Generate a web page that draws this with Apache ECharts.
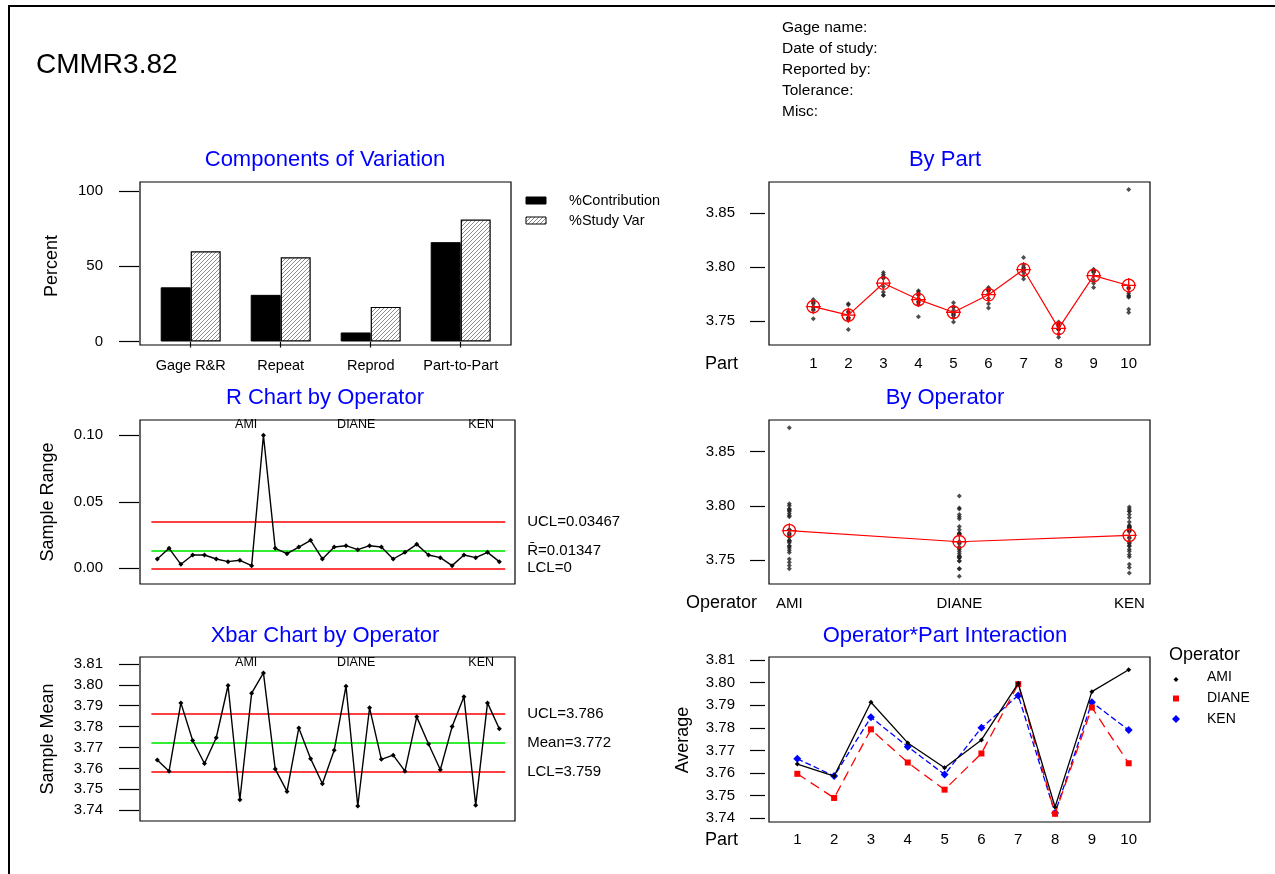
<!DOCTYPE html>
<html>
<head>
<meta charset="utf-8">
<title>Gage R&amp;R (ANOVA) CMMR3.82</title>
<script src="https://cdn.jsdelivr.net/npm/echarts@6/dist/echarts.min.js"></script>
<style>
  html, body { margin: 0; padding: 0; background: #fff; }
  #main { width: 1275px; height: 874px; }
</style>
</head>
<body>
<div id="main"></div>
<script>
// ---- data ----
var components = ['Gage R&R', 'Repeat', 'Reprod', 'Part-to-Part'];
var pctContribution = [36, 31, 6, 66];
var pctStudyVar = [60, 56, 23, 81];

var operators = ['AMI', 'DIANE', 'KEN'];
var parts = ['1', '2', '3', '4', '5', '6', '7', '8', '9', '10'];

// three trials per part, one list per operator
var amiTrials = [
    [3.761, 3.763, 3.768], [3.751, 3.759, 3.766], [3.790, 3.791, 3.793], [3.768, 3.774, 3.778], [3.757, 3.763, 3.767],
    [3.771, 3.775, 3.778], [3.797, 3.800, 3.802], [3.742, 3.745, 3.748], [3.795, 3.796, 3.797], [3.772, 3.773, 3.872]
];
var dianeTrials = [
    [3.752, 3.760, 3.767], [3.742, 3.752, 3.753], [3.774, 3.774, 3.790], [3.754, 3.765, 3.775], [3.749, 3.753, 3.756],
    [3.762, 3.766, 3.778], [3.792, 3.797, 3.809], [3.735, 3.742, 3.749], [3.781, 3.788, 3.798], [3.758, 3.761, 3.774]
];
var kenTrials = [
    [3.763, 3.766, 3.770], [3.753, 3.758, 3.765], [3.777, 3.782, 3.795], [3.767, 3.771, 3.777], [3.755, 3.760, 3.763],
    [3.779, 3.780, 3.781], [3.789, 3.795, 3.799], [3.738, 3.743, 3.746], [3.785, 3.792, 3.797], [3.776, 3.780, 3.781]
];

var rLimits = [0.03467, 0.01347, 0];
var rLimitLabels = ['UCL=0.03467', 'R\u0304=0.01347', 'LCL=0'];
var xbarLimits = [3.7861, 3.7723, 3.7585];
var xbarLimitLabels = ['UCL=3.786', 'Mean=3.772', 'LCL=3.759'];

// ---- derived statistics ----
var allTrials = [amiTrials, dianeTrials, kenTrials];
function avg(a) { return a.reduce(function (s, v) { return s + v; }, 0) / a.length; }
function spread(a) { return Math.max.apply(null, a) - Math.min.apply(null, a); }

var xbarData = [], rangeData = [];
allTrials.forEach(function (op, o) {
    op.forEach(function (t, p) {
        xbarData.push([o * 10 + p + 1, avg(t)]);
        rangeData.push([o * 10 + p + 1, spread(t)]);
    });
});
var partDots = [], partMeans = [];
parts.forEach(function (name, p) {
    var vals = [];
    allTrials.forEach(function (op) { vals = vals.concat(op[p]); });
    vals.forEach(function (v) { partDots.push([p, v]); });
    partMeans.push([p, avg(vals)]);
});
var opDots = [], opMeans = [];
allTrials.forEach(function (op, o) {
    var vals = [].concat.apply([], op);
    vals.forEach(function (v) { opDots.push([o, v]); });
    opMeans.push([o, avg(vals)]);
});
var interaction = allTrials.map(function (op) {
    return op.map(function (t, p) { return [p, avg(t)]; });
});

// ---- styles ----
var FONT = '"Liberation Sans", Arial, sans-serif';
var BLUE = '#0000ff';
var opColors = ['#000000', '#ff0000', '#0000ff'];
var opSymbols = ['diamond', 'rect', 'diamond'];
var opSymbolSizes = [5, 6, 8];
var opDash = ['solid', [10, 6], [6, 3]];
var circlePlus = 'path://M2,12 A10,10 0 1,1 22,12 A10,10 0 1,1 2,12 Z M12,0 L12,24 M0,12 L24,12';

// diagonal hatch used for %Study Var
var hatch = document.createElement('canvas');
hatch.width = 4; hatch.height = 4;
var hctx = hatch.getContext('2d');
hctx.fillStyle = '#fff';
hctx.fillRect(0, 0, 4, 4);
hctx.strokeStyle = '#8c8c8c';
hctx.lineWidth = 1;
hctx.beginPath();
hctx.moveTo(0, 4); hctx.lineTo(4, 0);
hctx.moveTo(-1, 1); hctx.lineTo(1, -1);
hctx.moveTo(3, 5); hctx.lineTo(5, 3);
hctx.stroke();
var hatchFill = { image: hatch, repeat: 'repeat' };

function valueAxis(grid, min, max, interval, offset, tickLen, margin, digits) {
    return {
        type: 'value', gridIndex: grid, min: min, max: max, interval: interval, offset: offset,
        axisLine: { show: false },
        axisTick: { show: true, length: tickLen, lineStyle: { color: '#000', width: 1.2 } },
        axisLabel: {
            margin: margin, color: '#000', fontSize: 15, fontFamily: FONT,
            formatter: function (v) { return v.toFixed(digits); }
        },
        splitLine: { show: false }
    };
}
function catAxis(grid, data, offset, margin, gap) {
    return {
        type: 'category', gridIndex: grid, data: data, boundaryGap: gap, offset: offset,
        axisLine: { show: false }, axisTick: { show: false },
        axisLabel: { margin: margin, color: '#000', fontSize: 15, fontFamily: FONT, interval: 0 },
        splitLine: { show: false }
    };
}
function hiddenIndexAxis(grid) {
    return { type: 'value', gridIndex: grid, min: 0.5, max: 30.5, show: false, splitLine: { show: false } };
}
function limitLines(values, labels, colors) {
    return values.map(function (v, i) {
        return {
            yAxis: v,
            lineStyle: { color: colors[i], width: i === 1 ? 2 : 1.5, type: 'solid' },
            label: { show: true, position: 'end', distance: 22, formatter: labels[i],
                     color: '#000', fontSize: 15, fontFamily: FONT }
        };
    });
}
function separators(lo, hi) {
    return [10.5, 20.5, 30.5].map(function (x) {
        return [
            { coord: [x, lo], lineStyle: { color: '#b4b4b4', width: 1.5, type: [6, 4] }, label: { show: false } },
            { coord: [x, hi] }
        ];
    });
}

var grids = [
    { left: 145.7, top: 191, width: 360, height: 150.5 },   // components
    { left: 813.3, top: 213.3, width: 315.4, height: 107.7 }, // by part
    { left: 151.4, top: 435.3, width: 353.8, height: 133 },  // R chart
    { left: 789.3, top: 451.7, width: 340, height: 108.3 },  // by operator
    { left: 151.4, top: 663.9, width: 353.8, height: 146.3 }, // Xbar chart
    { left: 797.3, top: 660, width: 331.4, height: 158.3 }   // interaction
].map(function (g) { g.outerBoundsMode = 'none'; g.containLabel = false; return g; });

var xAxes = [
    {
        type: 'category', gridIndex: 0, data: components, offset: 5,
        axisLine: { show: false },
        axisTick: { show: true, alignWithLabel: true, length: 6, lineStyle: { color: '#000', width: 1.2 } },
        axisLabel: { margin: 12, color: '#000', fontSize: 14.5, fontFamily: FONT, interval: 0 },
        splitLine: { show: false }
    },
    catAxis(1, parts, 29, 6, false),
    hiddenIndexAxis(2),
    catAxis(3, operators, 29, 7, false),
    hiddenIndexAxis(4),
    catAxis(5, parts, 8, 6, false)
];
var yAxes = [
    valueAxis(0, 0, 100, 50, 6.7, 20, 36, 0),
    valueAxis(1, 3.75, 3.85, 0.05, 48.3, 15, 30, 2),
    valueAxis(2, 0, 0.10, 0.05, 12.4, 20, 36, 2),
    valueAxis(3, 3.75, 3.85, 0.05, 24.3, 15, 30, 2),
    valueAxis(4, 3.74, 3.81, 0.01, 12.4, 20, 36, 2),
    valueAxis(5, 3.74, 3.81, 0.01, 32.3, 15, 30, 2)
];

var series = [
    {
        name: '%Contribution', type: 'bar', xAxisIndex: 0, yAxisIndex: 0, data: pctContribution,
        barWidth: 30, barGap: '0%',
        itemStyle: { color: '#000', borderColor: '#000', borderWidth: 1 }
    },
    {
        name: '%Study Var', type: 'bar', xAxisIndex: 0, yAxisIndex: 0, data: pctStudyVar,
        barWidth: 30,
        itemStyle: { color: hatchFill, borderColor: '#000', borderWidth: 1.2 }
    },
    {
        type: 'scatter', xAxisIndex: 1, yAxisIndex: 1, data: partDots, clip: false,
        symbol: 'diamond', symbolSize: 5, itemStyle: { color: '#222' }
    },
    {
        type: 'line', xAxisIndex: 1, yAxisIndex: 1, data: partMeans, clip: false, z: 5,
        symbol: circlePlus, symbolSize: 15,
        lineStyle: { color: '#ff0000', width: 1.2 },
        itemStyle: { color: 'rgba(0,0,0,0)', borderColor: '#ff0000', borderWidth: 1.3 }
    },
    {
        type: 'line', xAxisIndex: 2, yAxisIndex: 2, data: rangeData, clip: false, z: 5,
        symbol: 'diamond', symbolSize: 5,
        lineStyle: { color: '#000', width: 1.4 }, itemStyle: { color: '#000' },
        markLine: {
            silent: true, symbol: 'none', animation: false, precision: 6,
            data: limitLines(rLimits, rLimitLabels, ['#ff0000', '#33ee33', '#ff0000'])
                .concat(separators(-0.0118, 0.1115))
        }
    },
    {
        type: 'scatter', xAxisIndex: 3, yAxisIndex: 3, data: opDots, clip: false,
        symbol: 'diamond', symbolSize: 5, itemStyle: { color: '#222' }
    },
    {
        type: 'line', xAxisIndex: 3, yAxisIndex: 3, data: opMeans, clip: false, z: 5,
        symbol: circlePlus, symbolSize: 15,
        lineStyle: { color: '#ff0000', width: 1.2 },
        itemStyle: { color: 'rgba(0,0,0,0)', borderColor: '#ff0000', borderWidth: 1.3 }
    },
    {
        type: 'line', xAxisIndex: 4, yAxisIndex: 4, data: xbarData, clip: false, z: 5,
        symbol: 'diamond', symbolSize: 5,
        lineStyle: { color: '#000', width: 1.4 }, itemStyle: { color: '#000' },
        markLine: {
            silent: true, symbol: 'none', animation: false, precision: 6,
            data: limitLines(xbarLimits, xbarLimitLabels, ['#ff0000', '#33ee33', '#ff0000'])
                .concat(separators(3.7348, 3.8133))
        }
    }
];
operators.forEach(function (op, o) {
    series.push({
        name: op, type: 'line', xAxisIndex: 5, yAxisIndex: 5, data: interaction[o], clip: false,
        symbol: opSymbols[o], symbolSize: opSymbolSizes[o], z: 5 - o,
        lineStyle: { color: opColors[o], width: 1.3, type: opDash[o] },
        itemStyle: { color: opColors[o] }
    });
});

// ---- page furniture: frames, titles, legends ----
function frame(x, y, w, h) {
    return { type: 'rect', shape: { x: x, y: y, width: w, height: h }, z: 10,
             style: { fill: 'none', stroke: '#000', lineWidth: 1.2 } };
}
function text(str, x, y, size, opts) {
    opts = opts || {};
    return {
        type: 'text', x: x, y: y, rotation: opts.rotate ? Math.PI / 2 : 0, z: 10,
        style: { text: str, fill: opts.color || '#000', font: size + 'px ' + FONT,
                 align: opts.align || 'left', verticalAlign: 'middle' }
    };
}
var graphics = [
    { type: 'polyline', shape: { points: [[9, 874], [9, 6], [1275, 6]] }, style: { stroke: '#000', lineWidth: 2, fill: 'none' } },
    text('CMMR3.82', 36, 65, 28),
    text('Gage name:', 782, 28, 15.5),
    text('Date of study:', 782, 49, 15.5),
    text('Reported by:', 782, 70, 15.5),
    text('Tolerance:', 782, 91, 15.5),
    text('Misc:', 782, 112, 15.5),

    frame(140, 182, 371, 163), frame(769, 182, 381, 163),
    frame(140, 420, 375, 164), frame(769, 420, 381, 164),
    frame(140, 657, 375, 164), frame(769, 657, 381, 165),

    text('Components of Variation', 325, 160, 22, { align: 'center', color: BLUE }),
    text('By Part', 945, 160, 22, { align: 'center', color: BLUE }),
    text('R Chart by Operator', 325, 398, 22, { align: 'center', color: BLUE }),
    text('By Operator', 945, 398, 22, { align: 'center', color: BLUE }),
    text('Xbar Chart by Operator', 325, 636, 22, { align: 'center', color: BLUE }),
    text('Operator*Part Interaction', 945, 636, 22, { align: 'center', color: BLUE }),

    text('Percent', 52, 266, 18, { align: 'center', rotate: true }),
    text('Sample Range', 48, 502, 18, { align: 'center', rotate: true }),
    text('Sample Mean', 48, 739, 18, { align: 'center', rotate: true }),
    text('Average', 683, 740, 18, { align: 'center', rotate: true }),
    text('Part', 705, 364, 18),
    text('Operator', 686, 603, 18),
    text('Part', 705, 840, 18),

    // %Contribution / %Study Var legend
    { type: 'rect', shape: { x: 526, y: 197, width: 20, height: 7 }, style: { fill: '#000', stroke: '#000', lineWidth: 1 } },
    { type: 'rect', shape: { x: 526, y: 217, width: 20, height: 7 }, style: { fill: hatchFill, stroke: '#000', lineWidth: 1 } },
    text('%Contribution', 569, 200.5, 14.5),
    text('%Study Var', 569, 220.5, 14.5),

    // interaction legend
    text('Operator', 1169, 655, 18),
    { type: 'polygon', shape: { points: [[1176, 677], [1178.5, 679.5], [1176, 682], [1173.5, 679.5]] }, style: { fill: '#000' } },
    { type: 'rect', shape: { x: 1173, y: 695.5, width: 6, height: 6 }, style: { fill: '#ff0000' } },
    { type: 'polygon', shape: { points: [[1176, 715], [1180, 719], [1176, 723], [1172, 719]] }, style: { fill: '#0000ff' } },
    text('AMI', 1207, 677, 14),
    text('DIANE', 1207, 698, 14),
    text('KEN', 1207, 719, 14)
];
// operator names inside the control charts
[425, 662.7].forEach(function (y) {
    graphics.push(text('AMI', 257.3, y, 12.5, { align: 'right' }));
    graphics.push(text('DIANE', 375.3, y, 12.5, { align: 'right' }));
    graphics.push(text('KEN', 494, y, 12.5, { align: 'right' }));
});

var chart = echarts.init(document.getElementById('main'));
chart.setOption({
    animation: false,
    backgroundColor: '#fff',
    textStyle: { fontFamily: FONT },
    grid: grids,
    xAxis: xAxes,
    yAxis: yAxes,
    series: series,
    graphic: graphics
});
</script>
</body>
</html>
